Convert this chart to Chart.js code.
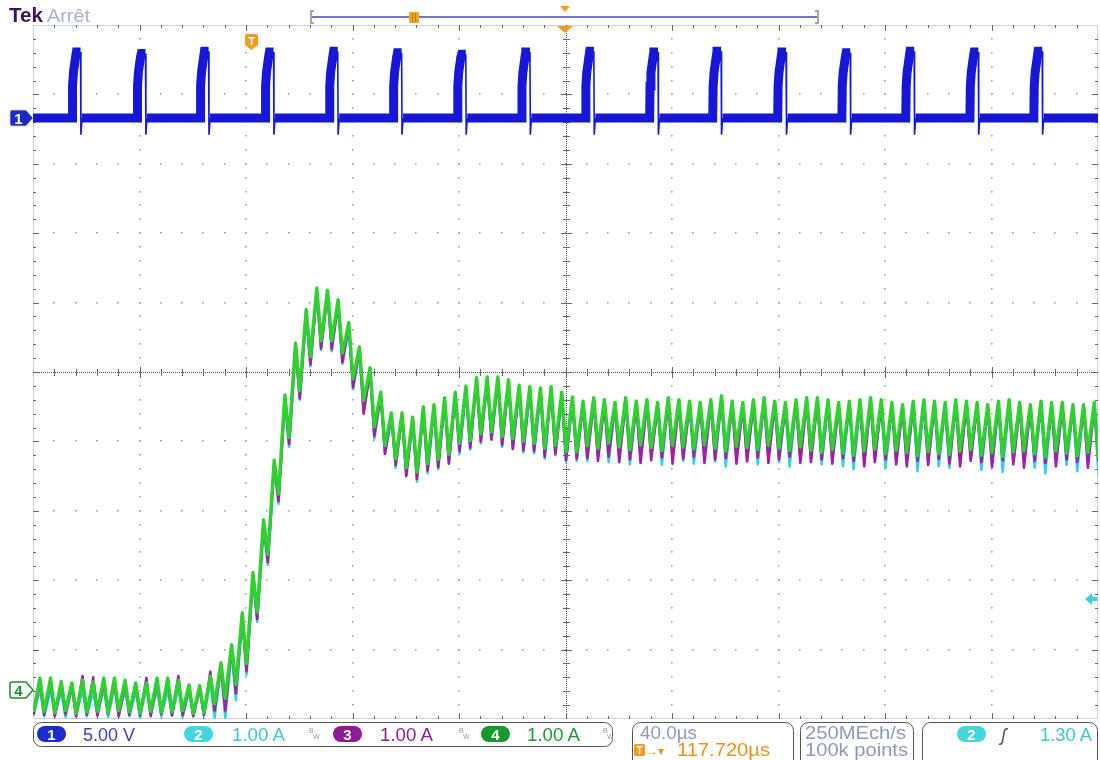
<!DOCTYPE html>
<html lang="fr">
<head>
<meta charset="UTF-8">
<title>Tek - captures CH1 / CH2 / CH3 / CH4</title>
<style>
  body { margin: 0; background: #fff; }
  #wrap { position: relative; width: 1100px; height: 760px; overflow: hidden; background: #fff; }
  #scope { position: absolute; top: 0; left: 0; }
  #overlay { position: absolute; top: 0; left: 0; pointer-events: none; }
  #overlay text { font-family: "Liberation Sans", Arial, sans-serif; }
</style>
</head>
<body>
<div id="wrap">
  <canvas id="scope" width="1100" height="760"></canvas>
  <svg id="overlay" width="1100" height="760" viewBox="0 0 1100 760">
    <!-- en-tete -->
    <text x="9" y="22" font-size="20" font-weight="bold" fill="#3b1363" textLength="34" lengthAdjust="spacingAndGlyphs">Tek</text>
    <text x="47" y="22" font-size="19" fill="#a7b2cf" textLength="43" lengthAdjust="spacingAndGlyphs">Arrêt</text>
    <line x1="312" y1="17" x2="817" y2="17" stroke="#7075d8" stroke-width="2"/>
    <path d="M314 11 H311 V23 H314 M815 11 H818 V23 H815" stroke="#8a8a8a" stroke-width="1.5" fill="none"/>
    <rect x="409" y="12" width="10" height="11" rx="1" fill="#f4a41e"/>
    <path d="M412.5 13 V22 M415.5 13 V22" stroke="#c77800" stroke-width="1"/>
    <polygon points="560,6 570,6 565,12" fill="#f4a020"/>
    <polygon points="557,26 573,26 565,33" fill="#f39c1f"/>
    <path d="M247 34 h9 a2 2 0 0 1 2 2 v9 l-6.5 5 l-6.5 -5 v-9 a2 2 0 0 1 2 -2 z" fill="#f39c1f"/>
    <text x="251.5" y="45" font-size="11" font-weight="bold" fill="#fff" text-anchor="middle">T</text>
    <!-- marqueurs de voie -->
    <path d="M12 110 h14 l7 8 l-7 8 h-14 a2 2 0 0 1 -2 -2 v-12 a2 2 0 0 1 2 -2 z" fill="#1c2ac9" stroke="#cfcf9a" stroke-width="0.8"/>
    <text x="18.5" y="124" font-size="15" font-weight="bold" fill="#fff" text-anchor="middle">1</text>
    <path d="M12 682 h14 l7 8 l-7 8 h-14 a2 2 0 0 1 -2 -2 v-12 a2 2 0 0 1 2 -2 z" fill="#fff" stroke="#238c32" stroke-width="1.5"/>
    <text x="18.5" y="696" font-size="15" font-weight="bold" fill="#238c32" text-anchor="middle">4</text>
    <polygon points="1085,599 1092,593 1092,597 1097,597 1097,601 1092,601 1092,605" fill="#3ccfe0"/>
    <!-- barre du bas -->
    <rect x="33.5" y="722.5" width="579" height="24" rx="8" fill="#fff" stroke="#555"/>
    <rect x="37" y="726" width="29" height="16" rx="8" fill="#1a2bd0"/>
    <text x="51.5" y="740" font-size="15" font-weight="bold" fill="#fff" text-anchor="middle">1</text>
    <text x="83" y="741" font-size="18" fill="#3b3bd1" textLength="52" lengthAdjust="spacingAndGlyphs">5.00 V</text>
    <rect x="184" y="726" width="29" height="16" rx="8" fill="#45d5dc"/>
    <text x="198.5" y="740" font-size="15" font-weight="bold" fill="#fff" text-anchor="middle">2</text>
    <text x="232" y="741" font-size="18" fill="#3cc8d2" textLength="53" lengthAdjust="spacingAndGlyphs">1.00 A</text>
    <text x="309" y="733" font-size="7" fill="#9d90bd">B</text>
    <text x="313" y="739" font-size="7" fill="#9d90bd">W</text>
    <rect x="333" y="726" width="29" height="16" rx="8" fill="#8e1b93"/>
    <text x="347.5" y="740" font-size="15" font-weight="bold" fill="#fff" text-anchor="middle">3</text>
    <text x="380" y="741" font-size="18" fill="#8e1b93" textLength="53" lengthAdjust="spacingAndGlyphs">1.00 A</text>
    <text x="459" y="733" font-size="7" fill="#9d90bd">B</text>
    <text x="463" y="739" font-size="7" fill="#9d90bd">W</text>
    <rect x="481" y="726" width="29" height="16" rx="8" fill="#149a2a"/>
    <text x="495.5" y="740" font-size="15" font-weight="bold" fill="#fff" text-anchor="middle">4</text>
    <text x="527" y="741" font-size="18" fill="#1a9a30" textLength="53" lengthAdjust="spacingAndGlyphs">1.00 A</text>
    <text x="603" y="733" font-size="7" fill="#9d90bd">B</text>
    <text x="607" y="739" font-size="7" fill="#9d90bd">W</text>

    <rect x="632.5" y="722.5" width="161" height="50" rx="8" fill="#fff" stroke="#555"/>
    <text x="640" y="739" font-size="18" fill="#8d9abb" textLength="57" lengthAdjust="spacingAndGlyphs">40.0µs</text>
    <rect x="634" y="744" width="11" height="12" rx="1.5" fill="#f39c1f"/>
    <text x="639.5" y="754" font-size="10" font-weight="bold" fill="#fff" text-anchor="middle">T</text>
    <text x="646" y="755" font-size="12" fill="#f0901a">→▾</text>
    <text x="677" y="756" font-size="18" fill="#f0901a" textLength="93" lengthAdjust="spacingAndGlyphs">117.720µs</text>

    <rect x="800.5" y="722.5" width="113" height="50" rx="8" fill="#fff" stroke="#555"/>
    <text x="805" y="739" font-size="18" fill="#8d9abb" textLength="101" lengthAdjust="spacingAndGlyphs">250MEch/s</text>
    <text x="805" y="756" font-size="18" fill="#8d9abb" textLength="103" lengthAdjust="spacingAndGlyphs">100k points</text>

    <rect x="922.5" y="722.5" width="175" height="50" rx="8" fill="#fff" stroke="#555"/>
    <rect x="957" y="726" width="29" height="16" rx="8" fill="#45d5dc"/>
    <text x="971.5" y="740" font-size="15" font-weight="bold" fill="#fff" text-anchor="middle">2</text>
    <text x="1001" y="741" font-size="18" font-style="italic" fill="#555">ʃ</text>
    <text x="1040" y="741" font-size="18" fill="#3cc8d2" textLength="52" lengthAdjust="spacingAndGlyphs">1.30 A</text>
  </svg>
</div>

<script src="https://cdn.jsdelivr.net/npm/chart.js@4.4.1/dist/chart.umd.min.js"></script>
<script>
// Base de temps : 40 us/div, 10 div -> 0..400 us
const timeMax = 400;

// CH1 (5.00 V/div) : fronts montants (us), niveau haut (V) et forme d'une impulsion
const ch1Edges = [14.7, 39.1, 62.8, 87.2, 111.3, 135.3, 159.4, 183.5, 207.5, 231.6, 255.3, 279.7, 303.8, 327.8, 351.9, 375.9];
const ch1Tops = [4.75, 4.65, 4.8, 4.75, 4.8, 4.7, 4.6, 4.75, 4.8, 4.75, 4.8, 4.75, 4.7, 4.8, 4.75, 4.8];
const ch1ShapeT = [0, 0.15, 0.5, 1.3, 1.6, 3.15, 3.3, 3.7];
const ch1ShapeV = [0, 2.3, 3.3, 4.4, null, null, -1.2, 0];

// Ondulation des courants (A) : un sommet et un creux par periode de 4 us
const ripplePeriod = 4.0;
const ripplePhase = 2.6;
const rippleFall = 1.6;

// CH4 (vert)
const ch4Peaks = [
  0.17, 0.17, 0.12, 0.10, 0.14, 0.12, 0.17, 0.17, 0.14, 0.10, 0.10, 0.17, 0.17, 0.14, 0.07, 0.06,
  0.20, 0.39, 0.65, 1.11, 1.69, 2.45, 3.31, 4.25,
  5.00, 5.48, 5.79, 5.76, 5.62, 5.29, 4.94, 4.64, 4.29, 3.99, 3.99, 3.93, 4.08, 4.11, 4.21, 4.29, 4.38, 4.50, 4.51, 4.51, 4.47, 4.39, 4.37, 4.35, 4.37, 4.29, 4.22,
  4.16, 4.21, 4.18, 4.14, 4.21, 4.16, 4.18, 4.14, 4.21, 4.18, 4.16, 4.14, 4.18, 4.24, 4.16, 4.14, 4.18, 4.21, 4.16, 4.14, 4.18,
  4.21, 4.21, 4.18, 4.14, 4.16, 4.18, 4.21, 4.18, 4.14, 4.11, 4.16, 4.18, 4.16, 4.14, 4.18, 4.16, 4.14, 4.11, 4.16, 4.18, 4.14, 4.11, 4.16, 4.14, 4.14, 4.11, 4.11, 4.14
];
const ch4Troughs = [
  -0.32,
  -0.31, -0.33, -0.30, -0.34, -0.32, -0.31, -0.33, -0.30, -0.32, -0.34, -0.31, -0.33, -0.32, -0.30, -0.34, -0.33,
  -0.20, -0.12, 0.08, 0.38, 1.12, 1.95, 2.82, 3.64,
  4.31, 4.80, 5.03, 5.03, 4.85, 4.48, 4.17, 3.79, 3.52, 3.33, 3.20, 3.14, 3.26, 3.32, 3.39, 3.55, 3.59, 3.69, 3.72, 3.65, 3.62, 3.58, 3.55, 3.48, 3.52, 3.43, 3.43,
  3.52, 3.48, 3.55, 3.50, 3.46, 3.53, 3.49, 3.45, 3.52, 3.50, 3.47, 3.53, 3.48, 3.44, 3.51, 3.49, 3.46, 3.52, 3.48, 3.45, 3.50,
  3.45, 3.42, 3.46, 3.41, 3.38, 3.44, 3.47, 3.40, 3.45, 3.42, 3.37, 3.43, 3.40, 3.39, 3.44, 3.46, 3.38, 3.42, 3.36, 3.43, 3.44, 3.40, 3.35, 3.44, 3.41, 3.37, 3.42, 3.33
];

// CH2 (cyan)
const ch2Peaks = [
  0.02, 0.00, -0.02, 0.03, 0.00, -0.03, 0.02, 0.04, 0.00, -0.02, 0.03, 0.01, 0.00, 0.03, -0.02, 0.00,
  0.10, 0.30, 0.55, 1.02, 1.60, 2.36, 3.22, 4.16,
  4.92, 5.40, 5.72, 5.70, 5.55, 5.22, 4.87, 4.57, 4.22, 3.92, 3.93, 3.86, 4.01, 4.05, 4.14, 4.22, 4.31, 4.43, 4.45, 4.44, 4.40, 4.33, 4.30, 4.28, 4.30, 4.22, 4.15,
  4.10, 4.14, 4.11, 4.08, 4.14, 4.10, 4.11, 4.07, 4.14, 4.11, 4.10, 4.07, 4.11, 4.17, 4.10, 4.07, 4.11, 4.14, 4.10, 4.07, 4.11,
  4.14, 4.14, 4.11, 4.07, 4.10, 4.11, 4.14, 4.11, 4.07, 4.05, 4.10, 4.11, 4.10, 4.07, 4.11, 4.10, 4.07, 4.05, 4.10, 4.11, 4.07, 4.05, 4.10, 4.07, 4.07, 4.05, 4.05, 4.07
];
const ch2Troughs = [
  -0.37,
  -0.38, -0.36, -0.39, -0.37, -0.38, -0.36, -0.39, -0.37, -0.38, -0.39, -0.36, -0.38, -0.37, -0.39, -0.38, -0.37,
  -0.40, -0.40, -0.15, 0.22, 0.98, 1.80, 2.68, 3.50,
  4.18, 4.66, 4.90, 4.88, 4.70, 4.33, 4.02, 3.62, 3.40, 3.20, 3.10, 3.00, 3.12, 3.18, 3.27, 3.40, 3.46, 3.55, 3.60, 3.50, 3.48, 3.42, 3.41, 3.33, 3.38, 3.29, 3.30,
  3.30, 3.38, 3.28, 3.35, 3.25, 3.33, 3.40, 3.24, 3.36, 3.30, 3.26, 3.38, 3.29, 3.22, 3.34, 3.31, 3.25, 3.36, 3.28, 3.22, 3.32,
  3.33, 3.25, 3.36, 3.22, 3.18, 3.30, 3.34, 3.20, 3.31, 3.27, 3.15, 3.28, 3.22, 3.20, 3.30, 3.33, 3.17, 3.26, 3.14, 3.28, 3.31, 3.20, 3.12, 3.30, 3.24, 3.15, 3.27, 3.10
];

// CH3 (magenta)
const ch3Peaks = [
  0.12, 0.13, 0.09, 0.07, 0.20, 0.18, 0.12, 0.13, 0.10, 0.07, 0.17, 0.12, 0.13, 0.20, 0.04, 0.03,
  0.26, 0.36, 0.62, 1.07, 1.65, 2.41, 3.27, 4.21,
  4.96, 5.44, 5.75, 5.72, 5.58, 5.25, 4.90, 4.60, 4.25, 3.95, 3.95, 3.89, 4.04, 4.07, 4.17, 4.25, 4.34, 4.46, 4.47, 4.47, 4.43, 4.35, 4.33, 4.31, 4.33, 4.25, 4.18,
  4.12, 4.17, 4.14, 4.10, 4.17, 4.12, 4.14, 4.10, 4.17, 4.14, 4.12, 4.10, 4.14, 4.20, 4.12, 4.10, 4.14, 4.17, 4.12, 4.10, 4.14,
  4.17, 4.17, 4.14, 4.10, 4.12, 4.14, 4.17, 4.14, 4.10, 4.07, 4.12, 4.14, 4.12, 4.10, 4.14, 4.12, 4.10, 4.07, 4.12, 4.14, 4.10, 4.07, 4.12, 4.10, 4.10, 4.07, 4.07, 4.10
];
const ch3Troughs = [
  -0.36,
  -0.36, -0.38, -0.35, -0.38, -0.36, -0.37, -0.35, -0.38, -0.36, -0.37, -0.38, -0.35, -0.37, -0.36, -0.38, -0.36,
  -0.30, -0.30, -0.05, 0.27, 1.02, 1.84, 2.72, 3.54,
  4.20, 4.69, 4.92, 4.91, 4.72, 4.36, 3.98, 3.66, 3.40, 3.24, 3.08, 3.04, 3.16, 3.21, 3.26, 3.44, 3.49, 3.58, 3.61, 3.53, 3.47, 3.45, 3.44, 3.36, 3.40, 3.31, 3.33,
  3.34, 3.30, 3.36, 3.28, 3.32, 3.27, 3.31, 3.35, 3.26, 3.33, 3.36, 3.27, 3.32, 3.34, 3.26, 3.29, 3.35, 3.27, 3.32, 3.36, 3.27,
  3.28, 3.32, 3.26, 3.34, 3.30, 3.22, 3.28, 3.32, 3.25, 3.22, 3.30, 3.24, 3.33, 3.26, 3.22, 3.30, 3.28, 3.21, 3.31, 3.25, 3.20, 3.30, 3.27, 3.22, 3.32, 3.28, 3.20, 3.29
];

// reglages des voies (position en divisions, echelle par division)
const ch1Position = 3.66, ch1VoltsPerDiv = 5;
const ampPosition = -4.58, ampsPerDiv = 1;

function ch1Trace() {
  const pts = [{ x: 0, y: ch1Position }];
  ch1Edges.forEach((t0, i) => {
    ch1ShapeT.forEach((dt, j) => {
      const v = ch1ShapeV[j] === null ? ch1Tops[i] : ch1ShapeV[j];
      pts.push({ x: t0 + dt, y: ch1Position + v / ch1VoltsPerDiv });
    });
  });
  pts.push({ x: timeMax, y: ch1Position });
  return pts;
}

function rippleTrace(peaks, troughs) {
  const pts = [{ x: ripplePhase + rippleFall - ripplePeriod, y: ampPosition + troughs[0] / ampsPerDiv }];
  peaks.forEach((p, k) => {
    pts.push({ x: ripplePhase + k * ripplePeriod, y: ampPosition + p / ampsPerDiv });
    pts.push({ x: ripplePhase + rippleFall + k * ripplePeriod, y: ampPosition + troughs[k + 1] / ampsPerDiv });
  });
  return pts;
}

// graticule facon oscilloscope
const scopeGrid = {
  id: 'scopeGrid',
  beforeDatasetsDraw(chart) {
    const { ctx, chartArea: a, scales: { x, y } } = chart;
    ctx.save();
    ctx.strokeStyle = '#c9d3e6';
    ctx.lineWidth = 1;
    ctx.strokeRect(a.left + 0.5, a.top + 0.5, a.width - 1, a.height - 1);

    // points des lignes principales
    ctx.fillStyle = '#a3a3a3';
    for (let i = 1; i < 10; i++) {
      if (i === 5) continue;
      const px = Math.round(x.getPixelForValue(i * 40));
      for (let j = 1; j < 50; j++) {
        const py = Math.round(y.getPixelForValue(-5 + j * 0.2));
        ctx.fillRect(px - 1, py - 1, 1.6, 1.6);
      }
    }
    for (let i = -4; i <= 4; i++) {
      if (i === 0) continue;
      const py = Math.round(y.getPixelForValue(i));
      for (let j = 1; j < 50; j++) {
        const px = Math.round(x.getPixelForValue(j * 8));
        ctx.fillRect(px - 1, py - 1, 1.6, 1.6);
      }
    }

    // axes centraux pointilles avec graduations
    const cx = Math.round(x.getPixelForValue(200));
    const cy = Math.round(y.getPixelForValue(0));
    ctx.fillStyle = '#555';
    for (let p = a.left; p < a.right; p += 2) ctx.fillRect(p, cy, 1, 1);
    for (let p = a.top; p < a.bottom; p += 2) ctx.fillRect(cx, p, 1, 1);
    ctx.strokeStyle = '#666';
    ctx.beginPath();
    for (let j = 1; j < 50; j++) {
      const px = Math.round(x.getPixelForValue(j * 8)) + 0.5;
      const len = j % 5 === 0 ? 5 : 3;
      ctx.moveTo(px, cy - len); ctx.lineTo(px, cy + len + 1);
      const py = Math.round(y.getPixelForValue(-5 + j * 0.2)) + 0.5;
      ctx.moveTo(cx - len, py); ctx.lineTo(cx + len + 1, py);
    }
    // graduations des bords
    for (let j = 1; j < 50; j++) {
      const px = Math.round(x.getPixelForValue(j * 8)) + 0.5;
      const len = j % 5 === 0 ? 6 : 3;
      ctx.moveTo(px, a.top); ctx.lineTo(px, a.top + len);
      ctx.moveTo(px, a.bottom); ctx.lineTo(px, a.bottom - len);
      const py = Math.round(y.getPixelForValue(-5 + j * 0.2)) + 0.5;
      ctx.moveTo(a.left, py); ctx.lineTo(a.left + len, py);
      ctx.moveTo(a.right, py); ctx.lineTo(a.right - len, py);
    }
    ctx.lineWidth = 1;
    ctx.stroke();
    ctx.restore();
  }
};

new Chart(document.getElementById('scope'), {
  type: 'line',
  data: {
    datasets: [
      {
        label: 'CH4', data: rippleTrace(ch4Peaks, ch4Troughs),
        borderColor: '#2fd02f', borderWidth: 3.4, order: 0
      },
      {
        label: 'CH3', data: rippleTrace(ch3Peaks, ch3Troughs),
        borderColor: '#a11fa8', borderWidth: 2.6, order: 1
      },
      {
        label: 'CH2', data: rippleTrace(ch2Peaks, ch2Troughs),
        borderColor: '#36d3dc', borderWidth: 2.6, order: 2
      },
      {
        label: 'CH1', data: ch1Trace(),
        borderColor: '#1717d6', borderWidth: 9, order: 3,
        borderJoinStyle: 'miter',
        segment: {
          borderWidth: c => {
            const d = c.p1.parsed.y - c.p0.parsed.y;
            return (d < -0.5 || c.p0.parsed.y < ch1Position - 0.1) ? 1.6 : 9;
          }
        }
      }
    ]
  },
  options: {
    responsive: false,
    animation: false,
    layout: { padding: { left: 33, right: 2, top: 25, bottom: 41 } },
    elements: {
      point: { radius: 0 },
      line: { tension: 0, borderJoinStyle: 'round', fill: false }
    },
    scales: {
      x: { type: 'linear', min: 0, max: timeMax, display: false },
      y: { type: 'linear', min: -5, max: 5, display: false }
    },
    plugins: { legend: { display: false }, tooltip: { enabled: false } }
  },
  plugins: [scopeGrid]
});
</script>
</body>
</html>
